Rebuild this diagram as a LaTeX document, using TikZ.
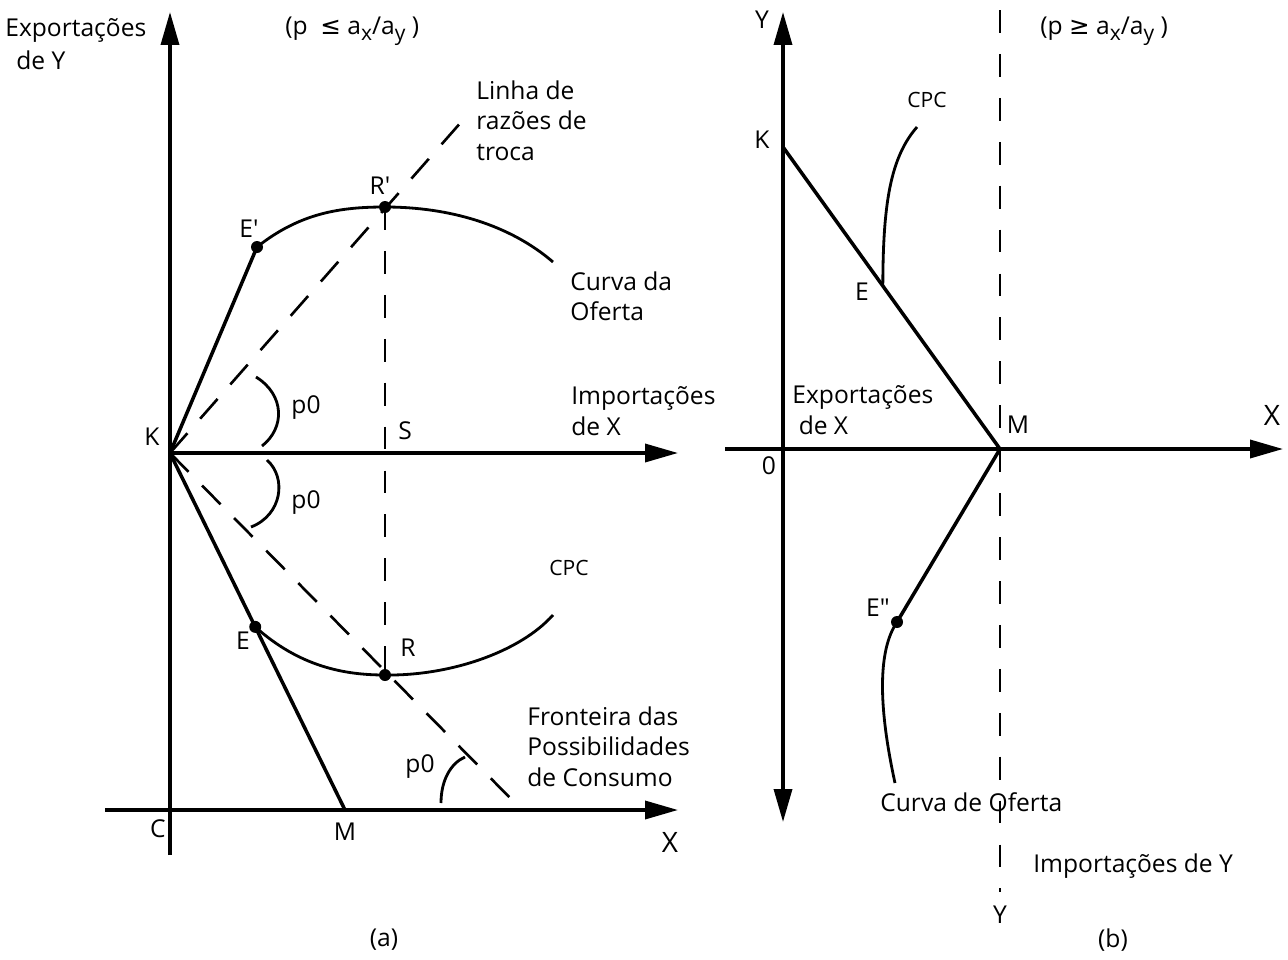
\documentclass[tikz,border=0pt]{standalone}
\usepackage{fontspec}
\setmainfont{Open Sans}
\newfontfamily\symfont{DejaVu Sans}
\usetikzlibrary{arrows.meta,calc}
\begin{document}
\begin{tikzpicture}[x=0.02cm,y=-0.02cm,
  every node/.style={font=\fontsize{14}{17.5}\selectfont,inner sep=0pt},
  axis/.style={line width=2pt,-{Triangle[length=0.66cm,width=0.36cm]}},
  axisb/.style={line width=2pt,{Triangle[length=0.66cm,width=0.36cm]}-{Triangle[length=0.66cm,width=0.36cm]}},
  solid line/.style={line width=2pt},
  curve/.style={line width=1.6pt},
  dash line/.style={line width=1.5pt,dash pattern=on 15pt off 11pt},
  vdash/.style={line width=1.5pt,dash pattern=on 13pt off 12pt},
  dotpt/.style={circle,fill=black,minimum size=0.24cm,inner sep=0pt},
  lbl/.style={anchor=west,align=left}
]
\useasboundingbox (0,0) rectangle (1288,960);
\newcommand{\sbx}{\raisebox{-0.45ex}{\fontsize{12}{12}\selectfont x}}
\newcommand{\sby}{\raisebox{-0.45ex}{\fontsize{12}{12}\selectfont y}}

% ---------- panel (a) ----------
\coordinate (Ybot) at (170,855);
\coordinate (Ytop) at (170,12);
\coordinate (Cl) at (105,810);
\coordinate (Cr) at (678,810);
\coordinate (K) at (170,453);
\coordinate (Kr) at (678,453);
\coordinate (M) at (345,810);
\node[dotpt] (Ep) at (257,247) {};
\node[dotpt] (Rp) at (385,207) {};
\node[dotpt] (E) at ($(K)!0.487!(M)$) {};
\node[dotpt] (R) at (385,675) {};
\coordinate (Lt) at (470,112);
\coordinate (Lb) at (522,810);
\coordinate (Oend) at (553,262);
\coordinate (Cend) at (553,615);

\draw[axis] (Ybot) -- (Ytop);
\draw[axis] (Cl) -- (Cr);
\draw[axis] (K) -- (Kr);
\draw[solid line] (K) -- (Ep.center);
\draw[solid line] (K) -- (M);
\draw[dash line] (K) -- (Lt);
\draw[dash line] (K) -- (Lb);
\draw[vdash] (Rp.center) -- (R.center);
\draw[curve] (Ep.center) .. controls (300,213) and (340,207) .. (Rp.center)
  .. controls (450,207) and (510,225) .. (Oend);
\draw[curve] (E.center) .. controls (300,667) and (345,675) .. (R.center)
  .. controls (450,676) and (520,652) .. (Cend);
% angle arcs
\coordinate (a1s) at (256,377); \coordinate (a1e) at (262,446);
\draw[curve] (a1s) .. controls (285,395) and (285,428) .. (a1e);
\coordinate (a2s) at (267,460); \coordinate (a2e) at (251,527);
\draw[curve] (a2s) .. controls (287,478) and (282,515) .. (a2e);
\coordinate (a3s) at (441,803); \coordinate (a3e) at (465,757);
\draw[curve] (a3s) .. controls (441,780) and (451,763) .. (a3e);

\node[lbl] (tEY) at (5,30) {Exportações};
\node[lbl] (tEY2) at (16,60) {de Y};
\node[lbl] (tpa) at (285,31) {(p \ {\symfont ≤} a\sbx/a\sby\ )};
\node[lbl,anchor=north west] (tLinha) at (476,80) {Linha de\\razões de\\troca};
\node (tEp) at (249,229) {E\textquotesingle};
\node (tRp) at (380,186) {R\textquotesingle};
\node[lbl,anchor=north west] (tCO) at (570,271) {Curva da\\Oferta};
\node (p1) at (306,408) {p0};
\node (p2) at (306,503) {p0};
\node (p3) at (420,767) {p0};
\node[lbl,anchor=north west] (tIX) at (571,386) {Importações\\de X};
\node (tK) at (152,437) {K};
\node (tS) at (405,431) {S};
\node[font=\fontsize{12}{14}\selectfont] (tCPC) at (569,568) {CPC};
\node (tE) at (243,641) {E};
\node (tR) at (408,648) {R};
\node[lbl,anchor=north west] (tF) at (527,706) {Fronteira das\\Possibilidades\\de Consumo};
\node (tC) at (158,829) {C};
\node (tM) at (345,832) {M};
\node[font=\fontsize{16}{17}\selectfont] (tX) at (670,842) {X};
\node (ta) at (384,940) {(a)};

% ---------- panel (b) ----------
\coordinate (YBb) at (783,822);
\coordinate (YBt) at (783,12);
\coordinate (XBl) at (725,449);
\coordinate (XBr) at (1283,449);
\coordinate (KB) at (783,147);
\coordinate (MB) at (1000,449);
\coordinate (DT) at (1000,10);
\coordinate (DB) at (1000,892);
\coordinate (EB) at ($(KB)!0.46!(MB)$);
\node[dotpt] (EBB) at (897,622) {};
\coordinate (CPCend) at (917,127);
\coordinate (COend) at (895,783);

\draw[axisb] (YBb) -- (YBt);
\draw[axis] (XBl) -- (XBr);
\draw[vdash] (DT) -- (DB);
\draw[solid line] (KB) -- (MB);
\draw[solid line] (MB) -- (EBB.center);
\draw[curve] (EB) .. controls (883,205) and (890,158) .. (CPCend);
\draw[curve] (EBB.center) .. controls (878,650) and (878,705) .. (COend);

\node (tYb) at (762,20) {Y};
\node[lbl] (tpb) at (1040,31) {(p {\symfont ≥} a\sbx/a\sby\ )};
\node (tKb) at (762,140) {K};
\node[font=\fontsize{12}{14}\selectfont] (tCPCb) at (927,100) {CPC};
\node (tEb) at (862,292) {E};
\node[lbl,anchor=north west] (tEX) at (792,385) {Exportações\\\ de X};
\node (tMb) at (1018,425) {M};
\node[font=\fontsize{16}{17}\selectfont] (tXb) at (1272,415) {X};
\node (t0) at (769,466) {0};
\node (tEBB) at (878,608) {E\textquotedbl};
\node[lbl] (tCOb) at (880,802) {Curva de Oferta};
\node[lbl] (tIY) at (1033,866) {Importações de Y};
\node (tYbb) at (1000,915) {Y};
\node (tb) at (1113,940) {(b)};
\end{tikzpicture}
\end{document}
